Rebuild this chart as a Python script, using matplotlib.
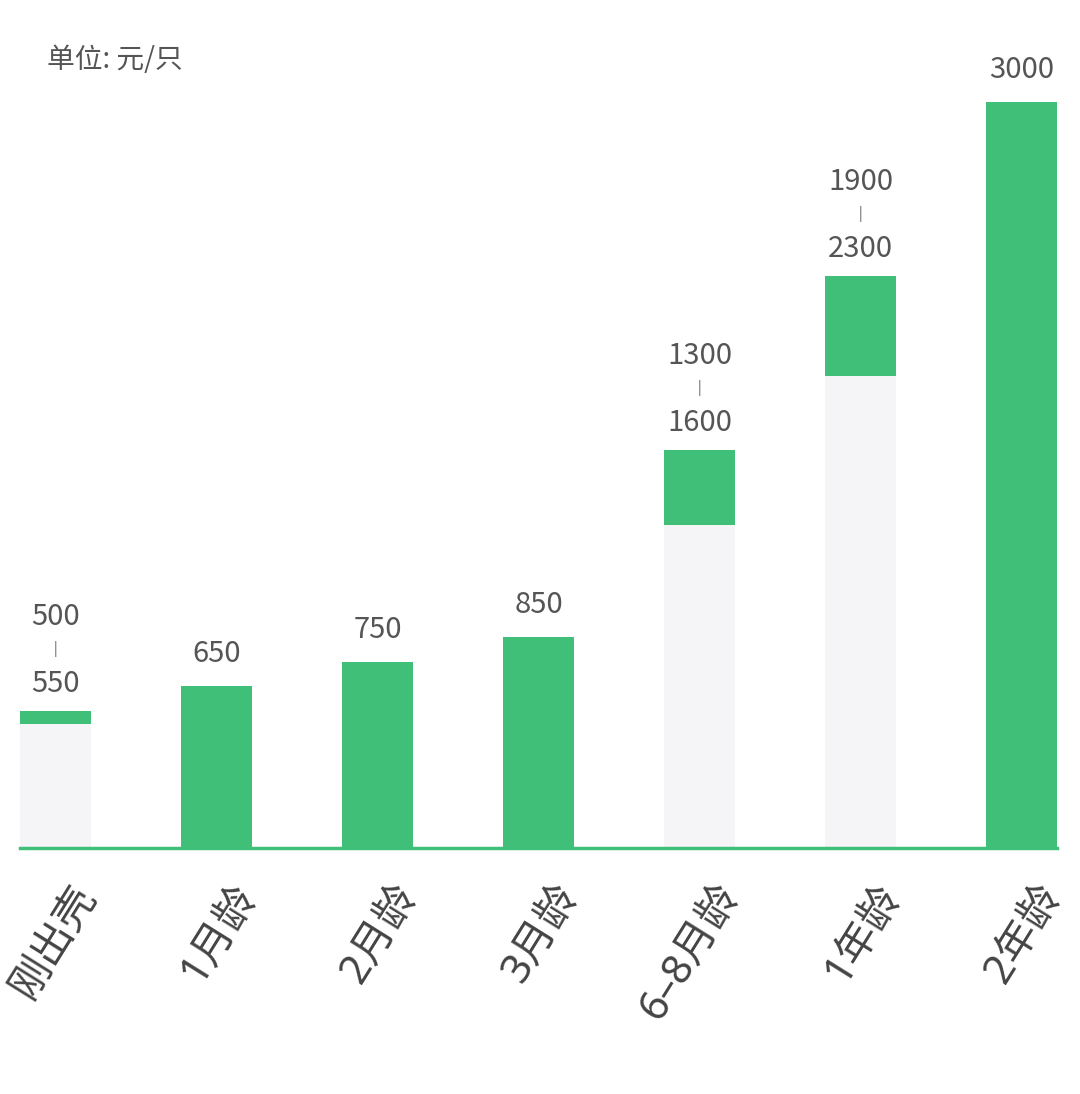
import matplotlib.pyplot as plt

plt.rcParams['font.family'] = ['Noto Sans CJK SC', 'DejaVu Sans']

# data: price range per age (元/只)
ages = ['刚出壳', '1月龄', '2月龄', '3月龄', '6–8月龄', '1年龄', '2年龄']
low = [500, 650, 750, 850, 1300, 1900, 3000]
high = [550, 650, 750, 850, 1600, 2300, 3000]

green = '#40bf78'
grey = '#f5f5f7'
txt = '#555555'

fig = plt.figure(figsize=(10.8, 10.94), dpi=100)
ax = fig.add_axes([20/1080, 246/1094, 1037/1080, 828/1094])

x = list(range(len(ages)))
w = 0.44
for i in x:
    if low[i] == high[i]:
        ax.bar(i, high[i], width=w, color=green, linewidth=0)
    else:
        ax.bar(i, low[i], width=w, color=grey, linewidth=0)
        ax.bar(i, high[i] - low[i], bottom=low[i], width=w, color=green, linewidth=0)

# value labels above the bars
for i in x:
    if low[i] == high[i]:
        ax.annotate(str(high[i]), (i, high[i]), xytext=(0, 32), textcoords='offset pixels',
                    ha='center', va='center', fontsize=21, color=txt)
    else:
        ax.annotate(str(high[i]), (i, high[i]), xytext=(0, 27), textcoords='offset pixels',
                    ha='center', va='center', fontsize=21, color=txt)
        ax.annotate('|', (i, high[i]), xytext=(0, 62), textcoords='offset pixels',
                    ha='center', va='center', fontsize=10, color=txt)
        ax.annotate(str(low[i]), (i, high[i]), xytext=(0, 94), textcoords='offset pixels',
                    ha='center', va='center', fontsize=21, color=txt)

ax.set_xlim(-w/2, len(ages) - 1 + w/2)
ax.set_ylim(0, 828 / (746 / 3000))

for s in ['top', 'right', 'left']:
    ax.spines[s].set_visible(False)
ax.spines['bottom'].set_color(green)
ax.spines['bottom'].set_linewidth(2.5)
ax.set_yticks([])
ax.set_xticks(x)
ax.set_xticklabels([])
ax.tick_params(axis='x', length=0)

# rotated category labels
trans = ax.get_xaxis_transform()
for i in x:
    ax.annotate(ages[i], (i, 0), xycoords=trans, xytext=(31, -40), textcoords='offset pixels',
                ha='right', va='center', rotation=58, rotation_mode='anchor',
                fontsize=30, color='#444444', family=['Noto Sans', 'Noto Sans CJK SC'])

fig.text(47/1080, 1 - 60/1094, '单位: 元/只', ha='left', va='center', fontsize=20, color=txt)

fig.savefig('out.png', dpi=100, facecolor='white')
